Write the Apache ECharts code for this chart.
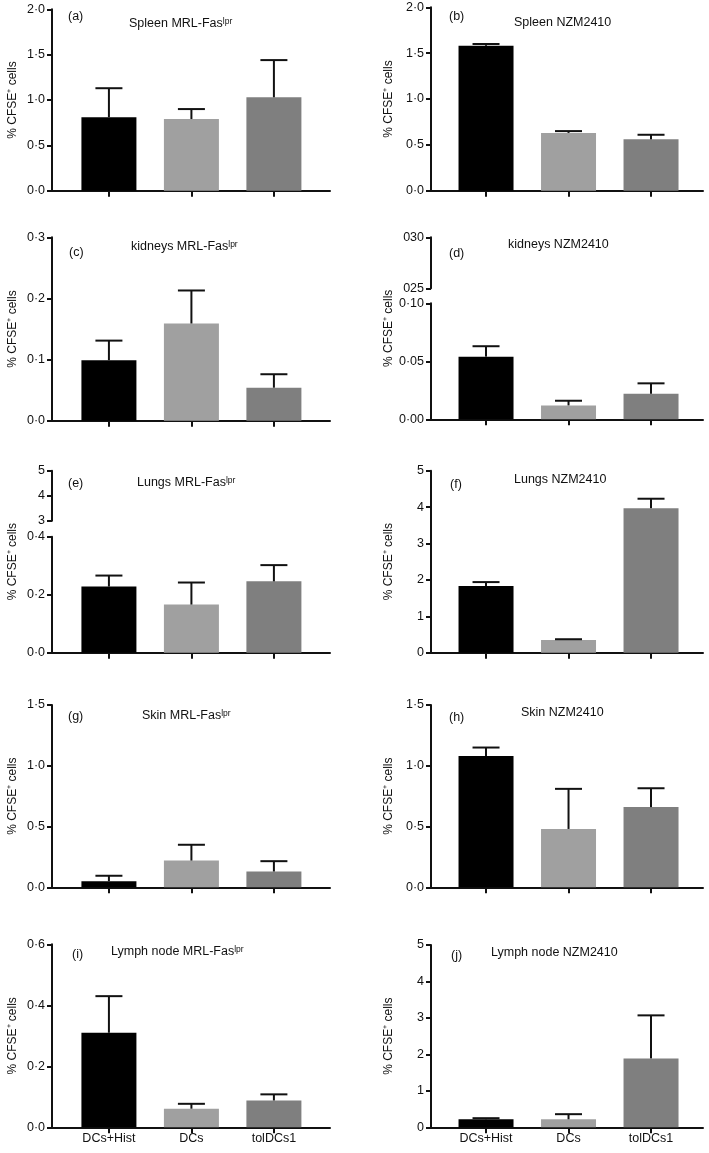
<!DOCTYPE html>
<html>
<head>
<meta charset="utf-8">
<script src="https://cdn.jsdelivr.net/npm/echarts@6/dist/echarts.min.js"></script>
<style>
html,body{margin:0;padding:0;background:#fff;}
#chart{width:709px;height:1153px;}
</style>
</head>
<body>
<div id="chart"></div>
<script>
// ---------- DATA ----------
const categories = ['DCs+Hist', 'DCs', 'tolDCs1'];

const spleenMrlMean = [0.81, 0.79, 1.03];
const spleenMrlSem  = [0.32, 0.11, 0.41];
const spleenNzmMean = [1.58, 0.63, 0.56];
const spleenNzmSem  = [0.02, 0.02, 0.05];
const kidneyMrlMean = [0.099, 0.159, 0.054];
const kidneyMrlSem  = [0.032, 0.054, 0.022];
const kidneyNzmMean = [0.054, 0.012, 0.022];
const kidneyNzmSem  = [0.009, 0.004, 0.009];
const lungMrlMean   = [0.228, 0.166, 0.246];
const lungMrlSem    = [0.038, 0.076, 0.056];
const lungNzmMean   = [1.83, 0.35, 3.97];
const lungNzmSem    = [0.11, 0.02, 0.26];
const skinMrlMean   = [0.05, 0.22, 0.13];
const skinMrlSem    = [0.045, 0.13, 0.085];
const skinNzmMean   = [1.08, 0.48, 0.66];
const skinNzmSem    = [0.07, 0.33, 0.155];
const lymphMrlMean  = [0.31, 0.061, 0.088];
const lymphMrlSem   = [0.12, 0.016, 0.02];
const lymphNzmMean  = [0.22, 0.22, 1.89];
const lymphNzmSem   = [0.03, 0.14, 1.18];

const ticksSpleen        = ['0·0', '0·5', '1·0', '1·5', '2·0'];
const ticksKidneyMrl     = ['0·0', '0·1', '0·2', '0·3'];
const ticksKidneyNzm     = ['0·00', '0·05', '0·10'];
const ticksKidneyNzmUp   = ['025', '030'];
const ticksLungMrl       = ['0·0', '0·2', '0·4'];
const ticksLungMrlUp     = ['3', '4', '5'];
const ticksLungNzm       = ['0', '1', '2', '3', '4', '5'];
const ticksSkin          = ['0·0', '0·5', '1·0', '1·5'];
const ticksLymphMrl      = ['0·0', '0·2', '0·4', '0·6'];
const ticksLymphNzm      = ['0', '1', '2', '3', '4', '5'];

const panelLetters = ['(a)', '(b)', '(c)', '(d)', '(e)', '(f)', '(g)', '(h)', '(i)', '(j)'];
const panelOrgans  = ['Spleen', 'Spleen', 'kidneys', 'kidneys', 'Lungs', 'Lungs', 'Skin', 'Skin', 'Lymph node', 'Lymph node'];
const strainMrl = 'MRL-Fas';
const strainMrlSup = 'lpr';
const strainNzm = 'NZM2410';
const yAxisTitle = '% CFSE\u207A cells';

// ---------- LAYOUT ----------
const FONT = 'Liberation Sans, Arial, Helvetica, sans-serif';
const INK = '#111';
const barColors = ['#000000', '#a0a0a0', '#7f7f7f'];
const L = {left: 52, width: 278, xMin: -0.69, xMax: 2.68, nameGap: 33};
const R = {left: 431, width: 272, xMin: -0.667, xMax: 2.63, nameGap: 36};

const panels = [
  {col: L, mean: spleenMrlMean, sem: spleenMrlSem, mrl: true,
   main: {top: 9.3, bottom: 190.7, min: 0, max: 2, interval: 0.5, ticks: ticksSpleen},
   letterPos: [68, 16.5], titlePos: [129, 24]},
  {col: R, mean: spleenNzmMean, sem: spleenNzmSem, mrl: false,
   main: {top: 7.3, bottom: 190.7, min: 0, max: 2, interval: 0.5, ticks: ticksSpleen},
   letterPos: [449, 17], titlePos: [514, 23]},
  {col: L, mean: kidneyMrlMean, sem: kidneyMrlSem, mrl: true,
   main: {top: 237.3, bottom: 420.7, min: 0, max: 0.3, interval: 0.1, ticks: ticksKidneyMrl},
   letterPos: [69, 253], titlePos: [131, 247]},
  {col: R, mean: kidneyNzmMean, sem: kidneyNzmSem, mrl: false,
   main: {top: 303.3, bottom: 419.3, min: 0, max: 0.10, interval: 0.05, ticks: ticksKidneyNzm},
   upper: {top: 237.3, bottom: 288.3, min: 0.25, max: 0.30, interval: 0.05, ticks: ticksKidneyNzmUp},
   letterPos: [449, 254], titlePos: [508, 245]},
  {col: L, mean: lungMrlMean, sem: lungMrlSem, mrl: true,
   main: {top: 536.7, bottom: 652.7, min: 0, max: 0.4, interval: 0.2, ticks: ticksLungMrl},
   upper: {top: 470.7, bottom: 520.7, min: 3, max: 5, interval: 1, ticks: ticksLungMrlUp},
   letterPos: [68, 484], titlePos: [137, 483]},
  {col: R, mean: lungNzmMean, sem: lungNzmSem, mrl: false,
   main: {top: 470.7, bottom: 652.7, min: 0, max: 5, interval: 1, ticks: ticksLungNzm},
   letterPos: [450, 485], titlePos: [514, 480]},
  {col: L, mean: skinMrlMean, sem: skinMrlSem, mrl: true,
   main: {top: 705, bottom: 887.3, min: 0, max: 1.5, interval: 0.5, ticks: ticksSkin},
   letterPos: [68, 717], titlePos: [142, 716]},
  {col: R, mean: skinNzmMean, sem: skinNzmSem, mrl: false,
   main: {top: 705, bottom: 887.3, min: 0, max: 1.5, interval: 0.5, ticks: ticksSkin},
   letterPos: [449, 718], titlePos: [521, 713]},
  {col: L, mean: lymphMrlMean, sem: lymphMrlSem, mrl: true, showCats: true,
   main: {top: 944.3, bottom: 1127.3, min: 0, max: 0.6, interval: 0.2, ticks: ticksLymphMrl},
   letterPos: [72, 955], titlePos: [111, 952]},
  {col: R, mean: lymphNzmMean, sem: lymphNzmSem, mrl: false, showCats: true,
   main: {top: 945, bottom: 1127.3, min: 0, max: 5, interval: 1, ticks: ticksLymphNzm},
   letterPos: [451, 956], titlePos: [491, 953]}
];

const grids = [], xAxes = [], yAxes = [], series = [], graphics = [];

function yLabelFmt(seg) {
  return function (v) {
    const i = Math.round((v - seg.min) / seg.interval);
    return seg.ticks[i] !== undefined ? seg.ticks[i] : '';
  };
}

function addGrid(col, top, bottom) {
  grids.push({left: col.left, width: col.width, top: top, height: bottom - top, containLabel: false});
  return grids.length - 1;
}

const axisLineStyle = {color: INK, width: 2};

panels.forEach(function (p, pi) {
  const col = p.col;
  const broken = !!p.upper;
  // main grid
  const gi = addGrid(col, p.main.top, p.main.bottom);
  xAxes.push({
    gridIndex: gi, type: 'value', min: col.xMin, max: col.xMax,
    axisLine: {show: true, lineStyle: axisLineStyle, onZero: false},
    axisTick: {show: true, length: 6, lineStyle: {color: INK, width: 2}, customValues: [0, 1, 2]},
    axisLabel: {show: !!p.showCats, customValues: [0, 1, 2], margin: 5,
      formatter: function (v) { return categories[Math.round(v)]; },
      color: INK, fontFamily: FONT, fontSize: 12.5},
    splitLine: {show: false}
  });
  yAxes.push({
    gridIndex: gi, type: 'value', min: p.main.min, max: p.main.max, interval: p.main.interval,
    name: broken ? '' : yAxisTitle, nameLocation: 'middle', nameGap: col.nameGap, nameRotate: 90,
    nameTextStyle: {color: INK, fontFamily: FONT, fontSize: 12},
    axisLine: {show: true, lineStyle: axisLineStyle, onZero: false},
    axisTick: {show: true, length: 5, lineStyle: {color: INK, width: 2}},
    axisLabel: {formatter: yLabelFmt(p.main), margin: 7, color: INK, fontFamily: FONT, fontSize: 12.5,
      showMinLabel: true, showMaxLabel: true},
    splitLine: {show: false}
  });
  const ai = xAxes.length - 1;
  series.push({
    type: 'bar', xAxisIndex: ai, yAxisIndex: ai, barWidth: 55,
    data: p.mean.map(function (v, i) {
      return {value: [i, v], itemStyle: {color: barColors[i]}};
    }),
    silent: true
  });
  series.push({
    type: 'custom', xAxisIndex: ai, yAxisIndex: ai, silent: true, z: 5,
    encode: {x: 0, y: 1},
    data: p.mean.map(function (v, i) { return [i, v, p.sem[i]]; }),
    renderItem: function (params, api) {
      const x = api.value(0), m = api.value(1), e = api.value(2);
      const b = api.coord([x, m]);
      const t = api.coord([x, m + e]);
      const hw = 13.5;
      return {
        type: 'group',
        children: [
          {type: 'line', shape: {x1: b[0], y1: b[1], x2: t[0], y2: t[1]}, style: {stroke: INK, lineWidth: 2}},
          {type: 'line', shape: {x1: t[0] - hw, y1: t[1], x2: t[0] + hw, y2: t[1]}, style: {stroke: INK, lineWidth: 2}}
        ]
      };
    }
  });

  if (broken) {
    // upper axis segment
    const gu = addGrid(col, p.upper.top, p.upper.bottom);
    xAxes.push({gridIndex: gu, type: 'value', min: col.xMin, max: col.xMax, show: false});
    yAxes.push({
      gridIndex: gu, type: 'value', min: p.upper.min, max: p.upper.max, interval: p.upper.interval,
      axisLine: {show: true, lineStyle: axisLineStyle, onZero: false},
      axisTick: {show: true, length: 5, lineStyle: {color: INK, width: 2}},
      axisLabel: {formatter: yLabelFmt(p.upper), margin: 7, color: INK, fontFamily: FONT, fontSize: 12.5,
        showMinLabel: true, showMaxLabel: true},
      splitLine: {show: false}
    });
    // full-height axis carrying only the title
    const gn = addGrid(col, p.upper.top, p.main.bottom);
    xAxes.push({gridIndex: gn, type: 'value', min: 0, max: 1, show: false});
    yAxes.push({
      gridIndex: gn, type: 'value', min: 0, max: 1,
      name: yAxisTitle, nameLocation: 'middle', nameGap: col.nameGap, nameRotate: 90,
      nameTextStyle: {color: INK, fontFamily: FONT, fontSize: 12},
      axisLine: {show: false, onZero: false}, axisTick: {show: false}, axisLabel: {show: false}, splitLine: {show: false}
    });
  }

  // panel letter
  graphics.push({
    type: 'text', x: p.letterPos[0], y: p.letterPos[1], silent: true,
    style: {text: panelLetters[pi], fill: INK, font: '12.5px ' + FONT, verticalAlign: 'middle', align: 'left'}
  });
  // panel title
  const txt = p.mrl
    ? panelOrgans[pi] + ' ' + strainMrl + '{sup|' + strainMrlSup + '}'
    : panelOrgans[pi] + ' ' + strainNzm;
  graphics.push({
    type: 'text', x: p.titlePos[0], y: p.titlePos[1], silent: true,
    style: {
      text: txt, fill: INK, fontFamily: FONT, fontSize: 12.5, verticalAlign: 'middle', align: 'left',
      rich: {sup: {fontSize: 8.5, fontFamily: FONT, fill: INK, verticalAlign: 'top', lineHeight: 10}}
    }
  });
});

const chart = echarts.init(document.getElementById('chart'), null, {renderer: 'canvas'});
chart.setOption({
  backgroundColor: '#ffffff',
  animation: false,
  grid: grids,
  xAxis: xAxes,
  yAxis: yAxes,
  series: series,
  graphic: {elements: graphics}
});
</script>
</body>
</html>
